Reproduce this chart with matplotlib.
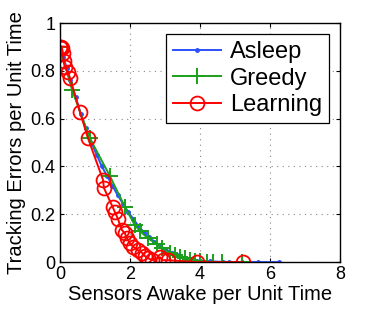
import matplotlib
matplotlib.use("Agg")
import matplotlib.pyplot as plt

plt.rcParams['font.family'] = ['Liberation Sans', 'DejaVu Sans']

# Asleep
asleep_x = [0, 0.1, 0.2, 0.3, 0.45, 0.6, 0.75, 0.9, 1.05, 1.2, 1.35, 1.5, 1.65, 1.8,
            1.95, 2.1, 2.25, 2.4, 2.55, 2.7, 2.85, 3.0, 3.2, 3.4, 3.6, 3.8, 4.0, 4.3,
            4.66, 4.83, 5.2, 5.66, 6.26]
asleep_y = [0.9, 0.86, 0.81, 0.76, 0.69, 0.62, 0.56, 0.5, 0.45, 0.4, 0.36, 0.32, 0.28,
            0.245, 0.21, 0.18, 0.15, 0.125, 0.105, 0.085, 0.07, 0.055, 0.04, 0.028,
            0.018, 0.011, 0.006, 0.003, 0.001, 0, 0, 0, 0]

# Greedy
greedy_x = [0, 0.35, 0.85, 1.43, 1.86, 2.14, 2.29, 2.51, 2.77, 2.91, 3.14, 3.29, 3.43,
            3.57, 3.71, 3.85, 4.0, 4.2, 4.37, 4.63, 5.2]
greedy_y = [0.9, 0.72, 0.52, 0.36, 0.23, 0.155, 0.13, 0.10, 0.075, 0.06, 0.04, 0.03,
            0.02, 0.015, 0.01, 0.006, 0.004, 0.002, 0.001, 0.0, 0.0]

# Learning
learn_x = [0, 0.02, 0.04, 0.06, 0.09, 0.11, 0.14, 0.23, 0.29, 0.57, 0.8, 1.23, 1.26,
           1.51, 1.57, 1.66, 1.77, 1.86, 1.91, 2.0, 2.09, 2.23, 2.34, 2.43, 2.51, 2.63,
           2.86, 2.94, 3.09, 3.91, 5.23]
learn_y = [0.9, 0.9, 0.895, 0.895, 0.875, 0.84, 0.816, 0.795, 0.77, 0.63, 0.52, 0.345,
           0.31, 0.23, 0.21, 0.18, 0.135, 0.12, 0.10, 0.08, 0.065, 0.05, 0.04, 0.025,
           0.017, 0.008, 0.02, 0.008, 0.008, 0.0, 0.0]

fig = plt.figure(figsize=(3.74, 3.12), dpi=100)
ax = fig.add_axes([0.160, 0.160, 0.749, 0.766])

ax.plot(asleep_x, asleep_y, color='#2b50ff', marker='.', markersize=5, lw=1.4, label='Asleep')
ax.plot(greedy_x, greedy_y, color='#1aa01a', marker='+', markersize=11, mew=1.4, lw=1.4, label='Greedy')
ax.plot(learn_x, learn_y, color='#ff0000', marker='o', markersize=10, mfc='none', mew=1.3,
        lw=1.4, label='Learning')

ax.set_xlim(0, 8)
ax.set_ylim(0, 1)
ax.set_xticks([0, 2, 4, 6, 8])
ax.set_yticks([0, 0.2, 0.4, 0.6, 0.8, 1])
ax.set_yticklabels(['0', '0.2', '0.4', '0.6', '0.8', '1'])
ax.grid(True, linestyle=(0, (1, 4)), color='#888888', lw=0.8)
for s in ax.spines.values():
    s.set_linewidth(1.0)
ax.tick_params(direction='in', top=True, right=True, labelsize=13, length=3, pad=3)
ax.set_xlabel('Sensors Awake per Unit Time', fontsize=14.5, labelpad=1)
ax.set_ylabel('Tracking Errors per Unit Time', fontsize=14.5, labelpad=3)

leg = ax.legend(loc='upper right', fontsize=17, fancybox=False, edgecolor='black',
                framealpha=1, handlelength=2.0, borderaxespad=0.45, borderpad=0.3,
                labelspacing=0.2, handletextpad=0.4)
leg.get_frame().set_linewidth(0.9)

fig.savefig('out.png', dpi=100)
